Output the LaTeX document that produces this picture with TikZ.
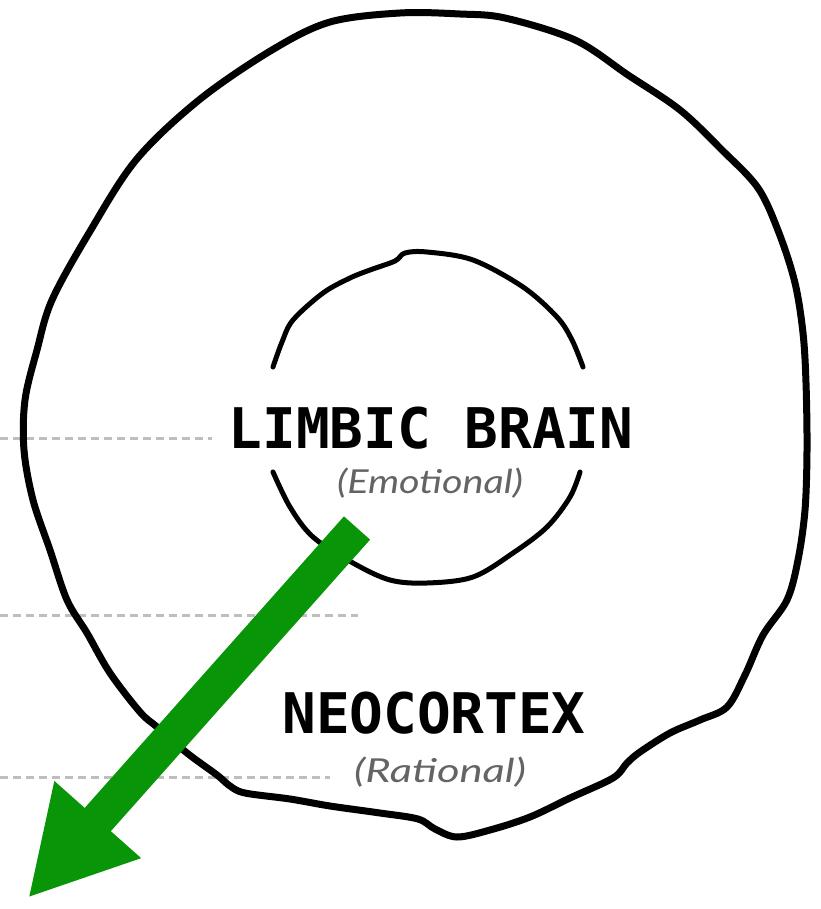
\documentclass[tikz,border=0pt]{standalone}
\usepackage{fontspec}
\usetikzlibrary{arrows.meta}
\newfontfamily\headfont{DejaVu Sans Mono}
\newfontfamily\subfont{Lato}
\definecolor{arrowgreen}{RGB}{8,150,8}
\definecolor{subgrey}{RGB}{100,100,100}
\definecolor{guidegrey}{RGB}{190,190,190}
\tikzset{
  outline/.style={line width=7, line join=round, line cap=round},
  innerline/.style={line width=5, line join=round, line cap=round},
  guide/.style={guidegrey, line width=3, dash pattern=on 8 off 5},
  headtext/.style={anchor=base, inner sep=0, font=\headfont\bfseries\fontsize{56}{60}\selectfont},
  subtext/.style={anchor=base, inner sep=0, text=subgrey, font=\subfont\itshape\fontsize{33}{36}\selectfont},
  bigarrow/.style={arrowgreen, line width=35, -{Triangle[length=105, width=108]}}
}
\begin{document}
\begin{tikzpicture}[x=1pt, y=-1pt]
\useasboundingbox (0,0) rectangle (820,909);

% dashed guide lines on the left
\coordinate (g1a) at (0,438);   \coordinate (g1b) at (212,438);
\coordinate (g2a) at (0,615);   \coordinate (g2b) at (358,615);
\coordinate (g3a) at (0,777);   \coordinate (g3b) at (330,777);
\draw[guide] (g1a) -- (g1b);
\draw[guide] (g2a) -- (g2b);
\draw[guide] (g3a) -- (g3b);

% outer ring: the neocortex
\draw[outline] plot[smooth cycle, tension=0.55] coordinates {
  (400,13) (460,14) (505,18) (575,40) (628,75) (680,110) (722,150)
  (758,188) (779,233) (795,283) (803,333) (806,383) (807,450) (805,510)
  (798,560) (787,600) (763,635) (745,675) (727,707) (700,720) (670,733)
  (640,752) (627,763) (613,778) (570,798) (530,817) (490,830) (457,837)
  (435,829) (418,819) (380,813) (330,806) (290,799) (245,793) (230,786)
  (217,775) (187,753) (157,727) (140,712) (110,673) (87,633) (67,600)
  (50,550) (33,500) (24,450) (25,400) (37,350) (52,300) (89,233)
  (136,160) (199,100) (272,50) (330,22)
};

% inner ring: the limbic brain, open round the label
\draw[innerline] plot[smooth, tension=0.55] coordinates {
  (273,367) (282,342) (293,320) (323,293) (350,278) (370,270)
  (395,261) (405,253) (427,252) (473,260) (523,287) (557,317)
  (572,340) (583,367)
};
\draw[innerline] plot[smooth, tension=0.55] coordinates {
  (273,472) (290,507) (313,537) (353,563) (390,580) (427,583)
  (473,577) (513,553) (547,527) (570,497) (580,472)
};

% labels
\node[headtext] (limbic) at (431,448) {LIMBIC BRAIN};
\node[subtext] (emotional) at (430,493) {\scalebox{1.2}[1]{(Emotional)}};
\node[headtext] (neo) at (434,733) {NEOCORTEX};
\node[subtext] (rational) at (440,782) {\scalebox{1.32}[1]{(Rational)}};

% green arrow pointing out of the limbic brain
\coordinate (arrowtail) at (357,528);
\coordinate (arrowtip) at (28,898);
\draw[bigarrow] (arrowtail) -- (arrowtip);
\end{tikzpicture}
\end{document}
